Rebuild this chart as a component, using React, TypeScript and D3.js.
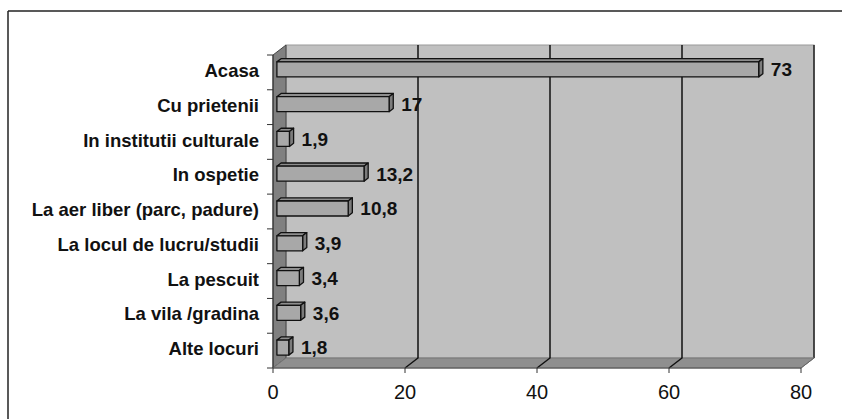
import React from 'react';
import * as d3 from 'd3';

const categories = [
  'Acasa',
  'Cu prietenii',
  'In institutii culturale',
  'In ospetie',
  'La aer liber (parc, padure)',
  'La locul de lucru/studii',
  'La pescuit',
  'La vila /gradina',
  'Alte locuri',
];
const values = [73, 17, 1.9, 13.2, 10.8, 3.9, 3.4, 3.6, 1.8];
const xTicks = [0, 20, 40, 60, 80];

const width = 842;
const height = 419;
const depthX = 13;
const depthY = 10;
const font = '"Liberation Sans", Arial, sans-serif';

const App: React.FC = () => {
  const x = d3.scaleLinear().domain([0, 80]).range([273, 801]);
  const y = d3.scaleBand<string>().domain(categories).range([55, 368]).paddingInner(0).paddingOuter(0);
  const bandH = y.bandwidth();
  const barH = 15;

  const x0 = x(0);
  const x1 = x(80);
  const yTop = y.range()[0];
  const yBot = y.range()[1];

  // bar sits partway into the depth
  const f0 = 0.3;
  const f1 = 0.62;

  const fmt = (v: number) => String(v).replace('.', ',');
  const pts = (p: [number, number][]) => p.map(d => d.join(',')).join(' ');

  return (
    <svg width={width} height={height} style={{ position: 'absolute', left: 0, top: 0, background: '#fff' }}>
      {/* frame */}
      <line x1={8} y1={11} x2={width} y2={11} stroke="#222" strokeWidth={1.5} />
      <line x1={8} y1={11} x2={8} y2={height} stroke="#222" strokeWidth={1.5} />

      {/* back wall */}
      <rect x={x0 + depthX} y={yTop - depthY} width={x1 - x0} height={yBot - yTop} fill="#c0c0c0" stroke="#999" strokeWidth={1} />
      <line x1={x1 + depthX} y1={yTop - depthY} x2={x1 + depthX} y2={yBot - depthY} stroke="#222" strokeWidth={1.5} />
      {/* left wall */}
      <polygon
        points={pts([[x0, yBot], [x0, yTop], [x0 + depthX, yTop - depthY], [x0 + depthX, yBot - depthY]])}
        fill="#808080"
        stroke="#444"
        strokeWidth={1}
      />
      {/* floor */}
      <polygon
        points={pts([[x0, yBot], [x1, yBot], [x1 + depthX, yBot - depthY], [x0 + depthX, yBot - depthY]])}
        fill="#8f8f8f"
        stroke="#777"
        strokeWidth={1}
      />
      <line x1={x1} y1={yBot} x2={x1 + depthX} y2={yBot - depthY} stroke="#666" strokeWidth={1} />

      {/* gridlines */}
      {xTicks.slice(1, -1).map(t => (
        <polyline
          key={t}
          points={pts([[x(t) + depthX, yTop - depthY], [x(t) + depthX, yBot - depthY], [x(t), yBot]])}
          fill="none"
          stroke="#111"
          strokeWidth={1.5}
        />
      ))}

      {/* axis ticks */}
      <line x1={x0} y1={yTop} x2={x0} y2={yBot} stroke="#333" strokeWidth={1} />
      <line x1={x0} y1={yBot} x2={x1} y2={yBot} stroke="#555" strokeWidth={1} />
      {xTicks.map(t => (
        <g key={t}>
          <line x1={x(t)} y1={yBot} x2={x(t)} y2={yBot + 5} stroke="#333" strokeWidth={1} />
          <text x={x(t)} y={399} textAnchor="middle" fontFamily={font} fontSize={20} fill="#111">{t}</text>
        </g>
      ))}
      {categories.map((c, i) => (
        <line key={c} x1={x0 - 6} x2={x0} y1={yTop + i * bandH} y2={yTop + i * bandH} stroke="#333" strokeWidth={1} />
      ))}
      <line x1={x0 - 6} x2={x0} y1={yBot} y2={yBot} stroke="#333" strokeWidth={1} />

      {/* bars */}
      {categories.map((c, i) => {
        const v = values[i];
        const cy = (y(c) || 0) + bandH / 2;
        const ax = depthX * f0, ay = depthY * f0;
        const bx = depthX * f1, by = depthY * f1;
        const left = x0 + ax;
        const right = x(v) + ax;
        const top = cy - barH / 2 - ay;
        const bottom = cy + barH / 2 - ay;
        const dx = bx - ax, dy = by - ay;
        return (
          <g key={c} stroke="#111" strokeWidth={1.3} strokeLinejoin="round">
            <polygon points={pts([[left, top], [left + dx, top - dy], [right + dx, top - dy], [right, top]])} fill="#8e8e8e" />
            <polygon points={pts([[right, top], [right + dx, top - dy], [right + dx, bottom - dy], [right, bottom]])} fill="#7c7c7c" />
            <rect x={left} y={top} width={right - left} height={bottom - top} fill="#a8a8a8" />
            <text
              x={right + dx + 8}
              y={cy - ay}
              dy="0.36em"
              fontFamily={font}
              fontSize={19}
              fontWeight="bold"
              fill="#111"
              stroke="none"
            >
              {fmt(v)}
            </text>
          </g>
        );
      })}

      {/* category labels */}
      {categories.map(c => (
        <text
          key={c}
          x={259}
          y={(y(c) || 0) + bandH / 2 - 2}
          dy="0.36em"
          textAnchor="end"
          fontFamily={font}
          fontSize={18.5}
          fontWeight="bold"
          fill="#111"
        >
          {c}
        </text>
      ))}
    </svg>
  );
};

export default App;
